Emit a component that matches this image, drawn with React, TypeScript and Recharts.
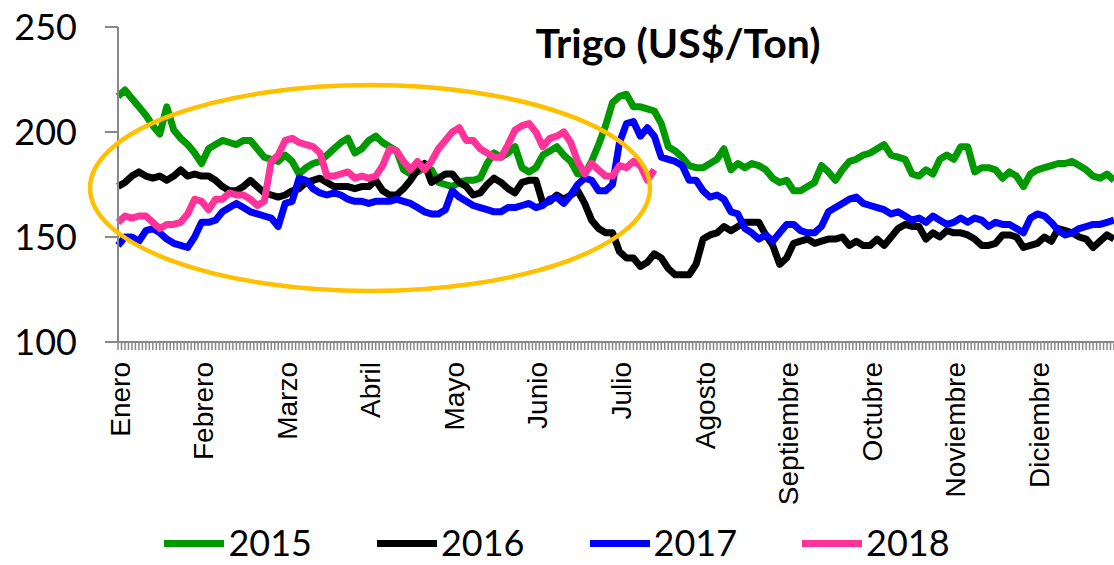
import { LineChart, Line, XAxis, YAxis, Legend } from "recharts";

const months = [
  "Enero", "Febrero", "Marzo", "Abril", "Mayo", "Junio",
  "Julio", "Agosto", "Septiembre", "Octubre", "Noviembre", "Diciembre",
];

// 12 points per month
const s2015 = [
  217, 220, 216, 212, 208, 203, 199, 212, 201, 197, 194, 190,
  185, 192, 194, 196, 195, 194, 196, 196, 192, 188, 187, 186,
  189, 186, 180, 183, 185, 186, 189, 192, 195, 197, 190, 192,
  196, 198, 195, 193, 191, 182, 180, 181, 183, 182, 176, 175,
  174, 176, 177, 177, 178, 185, 190, 188, 190, 193, 183, 181,
  183, 189, 191, 193, 189, 186, 180, 180, 186, 194, 203, 214,
  217, 218, 212, 212, 211, 210, 204, 193, 191, 188, 184, 183,
  183, 185, 187, 192, 182, 185, 183, 185, 184, 182, 178, 176,
  177, 172, 172, 174, 176, 184, 181, 177, 182, 186, 187, 189,
  190, 192, 194, 189, 188, 187, 180, 179, 182, 180, 187, 189,
  187, 193, 193, 181, 183, 183, 182, 178, 181, 179, 174, 180,
  182, 183, 184, 185, 185, 186, 184, 182, 179, 178, 180, 177,
];

const s2016 = [
  174, 176, 179, 181, 179, 178, 179, 177, 179, 182, 179, 180,
  179, 179, 177, 174, 172, 172, 174, 177, 174, 171, 170, 169,
  170, 172, 173, 176, 177, 178, 176, 174, 174, 174, 173, 174,
  174, 177, 172, 170, 170, 173, 177, 182, 185, 176, 178, 180,
  180, 176, 174, 170, 171, 175, 178, 176, 173, 171, 176, 177,
  177, 166, 167, 170, 168, 170, 172, 166, 158, 154, 152, 152,
  143, 140, 140, 136, 138, 142, 140, 135, 132, 132, 132, 137,
  149, 151, 152, 155, 153, 155, 157, 157, 157, 151, 146, 137,
  140, 147, 148, 149, 147, 148, 149, 149, 150, 146, 148, 146,
  146, 149, 146, 150, 154, 156, 155, 155, 149, 152, 150, 153,
  152, 152, 151, 149, 146, 146, 147, 151, 151, 150, 145, 146,
  147, 150, 148, 154, 153, 152, 150, 149, 145, 148, 151, 149,
];

const s2017 = [
  146, 150, 150, 148, 153, 154, 152, 149, 147, 146, 145, 150,
  157, 157, 158, 162, 164, 166, 164, 162, 161, 160, 159, 155,
  166, 167, 178, 177, 173, 171, 170, 171, 170, 168, 167, 167,
  166, 167, 167, 167, 168, 167, 166, 164, 162, 161, 161, 163,
  172, 169, 167, 165, 164, 163, 162, 162, 164, 164, 165, 166,
  164, 165, 168, 169, 166, 170, 175, 178, 177, 172, 172, 175,
  195, 204, 205, 198, 202, 198, 188, 187, 186, 184, 177, 177,
  172, 169, 170, 168, 162, 161, 154, 152, 149, 151, 148, 152,
  156, 156, 153, 152, 152, 155, 162, 164, 166, 168, 169, 166,
  165, 164, 163, 161, 162, 160, 158, 159, 157, 160, 158, 156,
  157, 159, 157, 159, 158, 155, 157, 156, 156, 154, 152, 159,
  161, 160, 157, 153, 151, 152, 154, 155, 156, 156, 157, 158,
];

// data available until mid July
const s2018 = [
  157, 160, 159, 160, 160, 157, 154, 156, 156, 157, 161, 168,
  167, 163, 168, 168, 171, 170, 170, 168, 165, 167, 186, 189,
  196, 197, 195, 194, 193, 190, 179, 179, 180, 181, 178, 179,
  178, 179, 184, 192, 191, 186, 182, 186, 182, 186, 192, 196,
  200, 202, 196, 196, 192, 190, 188, 188, 194, 201, 203, 204,
  200, 193, 197, 198, 200, 195, 186, 180, 185, 182, 179, 179,
  184, 183, 186, 184, 177, 182,
];

const yTicks = [100, 150, 200, 250];

const series = [
  { key: "y2015", name: "2015", color: "#009900" },
  { key: "y2016", name: "2016", color: "#000000" },
  { key: "y2017", name: "2017", color: "#0000FF" },
  { key: "y2018", name: "2018", color: "#FF3399" },
];

const data = s2015.map((v, i) => ({
  idx: i,
  y2015: v,
  y2016: s2016[i],
  y2017: s2017[i],
  y2018: s2018[i],
}));

const STEP = 996 / (s2015.length - 1);

function MonthTick(props: any) {
  const { x, y, payload } = props;
  const i = payload.value as number;
  const label = i % 12 === 0 ? months[i / 12] : null;
  return (
    <g>
      <line x1={x} y1={y} x2={x} y2={y + 8} stroke="#888" strokeWidth={1.5} />
      {i < s2015.length - 1 && (
        <line x1={x + STEP / 2} y1={y} x2={x + STEP / 2} y2={y + 8} stroke="#888" strokeWidth={1.5} />
      )}
      {label && (
        <text
          transform={`translate(${x + 2}, ${y + 20}) rotate(-90)`}
          textAnchor="end"
          dominantBaseline="central"
          fontFamily="'Liberation Sans', Arial, sans-serif"
          fontSize={28}
          fill="#000"
        >
          {label}
        </text>
      )}
    </g>
  );
}

function LegendRow() {
  return (
    <div
      style={{
        height: 44,
        display: "flex",
        justifyContent: "center",
        alignItems: "center",
        fontFamily: "Lato, sans-serif",
        fontSize: 36,
        lineHeight: 1.2,
        color: "#000",
      }}
    >
      {series.map((s, i) => (
        <div key={s.key} style={{ display: "flex", alignItems: "center", marginLeft: i ? 65 : 0 }}>
          <span style={{ width: 60, height: 7, background: s.color, display: "inline-block", marginRight: 4 }} />
          <span>{s.name}</span>
        </div>
      ))}
    </div>
  );
}

export default function App() {
  return (
    <div style={{ position: "absolute", left: 0, top: 0, width: 1114, height: 565, background: "#fff" }}>
      <LineChart width={1114} height={565} data={data} margin={{ top: 27, right: 0, bottom: 0, left: 0 }}>
        <XAxis
          dataKey="idx"
          type="category"
          interval={0}
          height={179}
          tickLine={false}
          tickSize={0}
          tickMargin={0}
          tick={<MonthTick />}
          axisLine={{ stroke: "#888", strokeWidth: 2 }}
        />
        <YAxis
          domain={[100, 250]}
          ticks={yTicks}
          width={118}
          tickSize={13}
          tickMargin={28}
          axisLine={{ stroke: "#888", strokeWidth: 2 }}
          tickLine={{ stroke: "#888", strokeWidth: 2 }}
          tick={{ fontFamily: "Lato, sans-serif", fontSize: 36, fill: "#000" }}
        />
        <Legend verticalAlign="bottom" content={<LegendRow />} />
        {series.map((s) => (
          <Line
            key={s.key}
            type="linear"
            dataKey={s.key}
            name={s.name}
            stroke={s.color}
            strokeWidth={7}
            strokeLinejoin="round"
            dot={false}
            activeDot={false}
            isAnimationActive={false}
          />
        ))}
      </LineChart>
      <svg
        width={1114}
        height={565}
        style={{ position: "absolute", left: 0, top: 0, pointerEvents: "none" }}
      >
        <ellipse cx={370} cy={188} rx={280} ry={103} fill="none" stroke="#FFC000" strokeWidth={4.5} />
        <text
          x={678}
          y={42}
          textAnchor="middle"
          dominantBaseline="central"
          fontFamily="Lato, sans-serif"
          fontWeight="bold"
          fontSize={41}
          fill="#000"
        >
          Trigo (US$/Ton)
        </text>
      </svg>
    </div>
  );
}
